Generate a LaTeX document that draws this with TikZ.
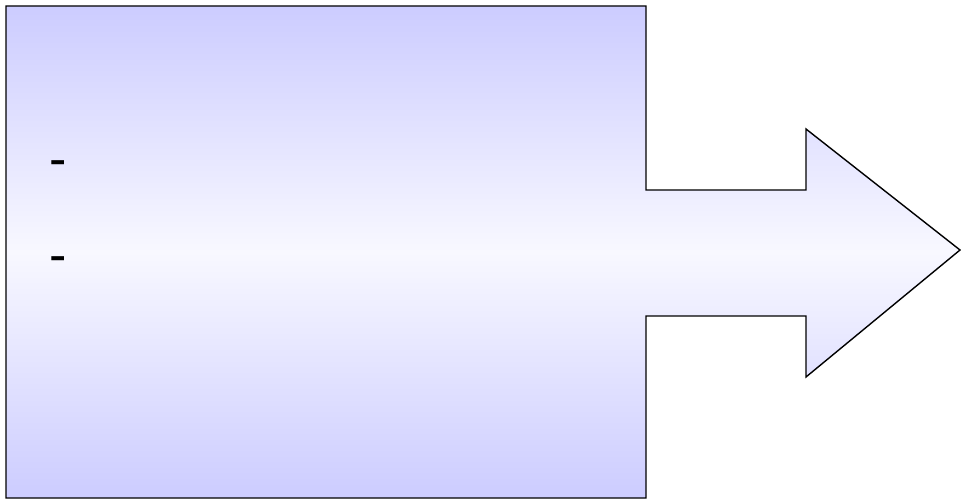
\documentclass[tikz,border=0pt]{standalone}
\usepackage{fontspec}
\setmainfont{Liberation Sans}
\begin{document}
\begin{tikzpicture}[x=1pt,y=-1pt]
    \definecolor{box-blue}{HTML}{CCCCFF}
    \definecolor{box-light}{HTML}{F8F8FF}

    \tikzset{
      callout/.style={
        draw=black,
        line width=1.4pt,
        line join=miter,
        top color=box-blue,
        bottom color=box-blue,
        middle color=box-light
      },
      dashmark/.style={
        font=\fontsize{52}{60}\selectfont,
        inner sep=0pt,
        anchor=base
      }
    }

    \useasboundingbox (0,0) rectangle (961,502);

    % box with the arrow on its right side
    \draw[callout] (6,6) -- (646,6) -- (646,190) -- (806,190) -- (806,129)
      -- (960,250) -- (806,377) -- (806,316) -- (646,316) -- (646,498)
      -- (6,498) -- cycle;

    \node[dashmark] (item1) at (58,177) {-};
    \node[dashmark] (item2) at (58,273) {-};
  \end{tikzpicture}
\end{document}
